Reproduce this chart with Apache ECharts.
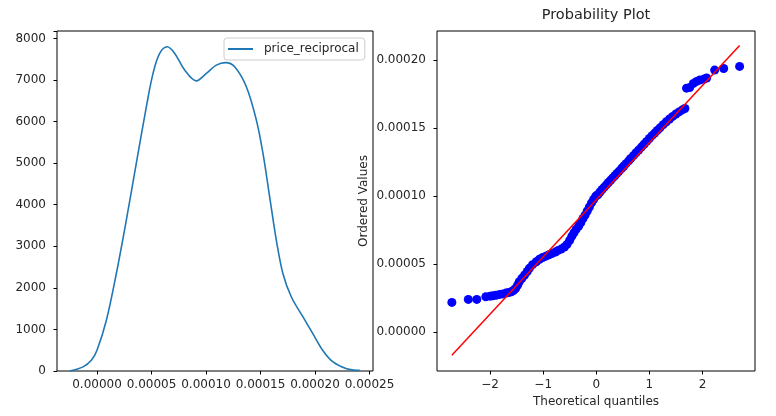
<!DOCTYPE html>
<html lang="en">
<head>
    <meta charset="UTF-8">
    <title>price_reciprocal</title>
    <script src="https://cdn.jsdelivr.net/npm/echarts@6/dist/echarts.min.js"></script>
    <style>
        body { margin: 0; background: #fff; }
    </style>
</head>
<body>
    <div id="main" style="width:776px; height:416px;"></div>
    <script>
        // KDE curve (left)
        var kdeX = [-2.5e-5, -1.28e-5, -0.52e-5, 0, 0.86e-5, 1.77e-5, 2.69e-5, 3.6e-5, 4.53e-5, 5.14e-5,
            5.75e-5, 6.45e-5, 7.13e-5, 8.04e-5, 9.11e-5, 10.03e-5, 10.95e-5, 11.8e-5, 12.63e-5, 13.7e-5,
            14.62e-5, 15.23e-5, 15.84e-5, 16.45e-5, 17.06e-5, 17.83e-5, 18.9e-5, 19.8e-5, 20.7e-5, 21.65e-5,
            22.9e-5, 24.1e-5];
        var kdeY = [0, 100, 257, 500, 1220, 2340, 3630, 4990, 6360, 7160,
            7640, 7800, 7640, 7240, 6980, 7160, 7360, 7420, 7320, 6840,
            6035, 5230, 4190, 3150, 2340, 1780, 1300, 900, 500, 217,
            56, 15];
        var kdeXTicks = [0, 5e-5, 1e-4, 1.5e-4, 2e-4, 2.5e-4];

        // probability plot (right)
        var qqX = [-2.72, -2.41, -2.25, -2.08, -2.00, -1.95, -1.89, -1.82, -1.76, -1.70,
            -1.65, -1.60, -1.56, -1.52, -1.48, -1.45, -1.40, -1.35, -1.30, -1.26,
            -1.20, -1.13, -1.07, -1.01, -0.95, -0.89, -0.83, -0.77, -0.72, -0.66,
            -0.60, -0.55, -0.50, -0.46, -0.42, -0.38, -0.33, -0.29, -0.25, -0.21,
            -0.17, -0.13, -0.09, -0.05, -0.01, 0.03, 0.07, 0.11, 0.15, 0.19,
            0.23, 0.27, 0.31, 0.35, 0.39, 0.43, 0.48, 0.52, 0.56, 0.61,
            0.65, 0.70, 0.75, 0.80, 0.85, 0.90, 0.95, 1.00, 1.05, 1.10,
            1.15, 1.20, 1.26, 1.32, 1.38, 1.44, 1.50, 1.56, 1.62, 1.67,
            1.70, 1.76, 1.83, 1.89, 1.95, 2.03, 2.08, 2.23, 2.40, 2.70];
        var qqY = [2.17e-5, 2.39e-5, 2.39e-5, 2.59e-5, 2.63e-5, 2.66e-5, 2.70e-5, 2.76e-5, 2.80e-5, 2.86e-5,
            2.90e-5, 2.95e-5, 3.05e-5, 3.20e-5, 3.45e-5, 3.69e-5, 3.95e-5, 4.19e-5, 4.45e-5, 4.68e-5,
            4.95e-5, 5.17e-5, 5.35e-5, 5.48e-5, 5.58e-5, 5.68e-5, 5.78e-5, 5.88e-5, 6.00e-5, 6.10e-5,
            6.25e-5, 6.45e-5, 6.75e-5, 7.05e-5, 7.30e-5, 7.55e-5, 7.80e-5, 8.05e-5, 8.35e-5, 8.60e-5,
            8.90e-5, 9.20e-5, 9.50e-5, 9.75e-5, 10.00e-5, 10.10e-5, 10.30e-5, 10.49e-5, 10.66e-5, 10.83e-5,
            11.00e-5, 11.17e-5, 11.34e-5, 11.50e-5, 11.67e-5, 11.84e-5, 12.05e-5, 12.22e-5, 12.39e-5, 12.60e-5,
            12.77e-5, 12.98e-5, 13.19e-5, 13.40e-5, 13.61e-5, 13.82e-5, 14.03e-5, 14.24e-5, 14.45e-5, 14.64e-5,
            14.84e-5, 15.03e-5, 15.26e-5, 15.48e-5, 15.68e-5, 15.87e-5, 16.05e-5, 16.20e-5, 16.35e-5, 16.45e-5,
            17.95e-5, 18.00e-5, 18.30e-5, 18.45e-5, 18.55e-5, 18.62e-5, 18.70e-5, 19.28e-5, 19.40e-5, 19.55e-5];
        var fitX = [-2.72, 2.70];
        var fitY = [-1.72e-5, 21.1e-5];
        var qqXTicks = [-2, -1, 0, 1, 2];
        var qqYTicks = [0, 5e-5, 1e-4, 1.5e-4, 2e-4];

        var font = 'DejaVu Sans';
        var txt = '#262626';

        function zip(a, b) {
            var out = [];
            for (var i = 0; i < a.length; i++) out.push([a[i], b[i]]);
            return out;
        }

        var tick = { show: true, length: 3.5, lineStyle: { color: '#000', width: 1 } };
        var lbl = { color: txt, fontFamily: font, fontSize: 12 };
        var noLine = { show: false, onZero: false };

        var myChart = echarts.init(document.getElementById('main'));
        var option = {
            animation: false,
            title: {
                text: 'Probability Plot',
                left: 596,
                top: 8,
                padding: 0,
                textAlign: 'center',
                textStyle: { color: txt, fontFamily: font, fontSize: 14.5, fontWeight: 'normal' }
            },
            legend: {
                data: [{ name: 'price_reciprocal', icon: 'rect' }],
                left: 224,
                top: 38,
                padding: [5, 6, 5, 4],
                itemWidth: 25,
                itemHeight: 2,
                borderColor: '#ccc',
                borderWidth: 1,
                borderRadius: 3,
                backgroundColor: 'rgba(255,255,255,0.8)',
                textStyle: { color: txt, fontFamily: font, fontSize: 12, padding: [0, 0, 0, 6] }
            },
            grid: [
                { left: 57, top: 31, width: 316, height: 340, show: true, borderColor: '#000', borderWidth: 1 },
                { left: 437, top: 31, width: 318, height: 340, show: true, borderColor: '#000', borderWidth: 1 }
            ],
            xAxis: [
                {
                    type: 'value', gridIndex: 0, min: -3.67e-5, max: 2.532e-4,
                    axisLine: noLine, splitLine: { show: false },
                    axisTick: Object.assign({ customValues: kdeXTicks }, tick),
                    axisLabel: Object.assign({ customValues: kdeXTicks, margin: 8,
                        formatter: function (v) { return v.toFixed(5); } }, lbl)
                },
                {
                    type: 'value', gridIndex: 1, min: -3.0, max: 2.99,
                    axisLine: noLine, splitLine: { show: false },
                    name: 'Theoretical quantiles', nameLocation: 'middle', nameGap: 24,
                    nameTextStyle: { color: txt, fontFamily: font, fontSize: 12 },
                    axisTick: Object.assign({ customValues: qqXTicks }, tick),
                    axisLabel: Object.assign({ customValues: qqXTicks, margin: 8,
                        formatter: function (v) { return v < 0 ? '\u2212' + Math.abs(v) : String(v); } }, lbl)
                }
            ],
            yAxis: [
                {
                    type: 'value', gridIndex: 0, min: 0, max: 8180, interval: 1000,
                    axisLine: noLine, splitLine: { show: false },
                    axisTick: tick,
                    axisLabel: Object.assign({ margin: 11,
                        formatter: function (v) { return v > 8000 ? '' : String(v); } }, lbl)
                },
                {
                    type: 'value', gridIndex: 1, min: -2.88e-5, max: 2.216e-4,
                    axisLine: noLine, splitLine: { show: false },
                    name: 'Ordered Values', nameLocation: 'middle', nameGap: 67,
                    nameTextStyle: { color: txt, fontFamily: font, fontSize: 12 },
                    axisTick: Object.assign({ customValues: qqYTicks }, tick),
                    axisLabel: Object.assign({ customValues: qqYTicks, margin: 11,
                        formatter: function (v) { return v.toFixed(5); } }, lbl)
                }
            ],
            series: [
                {
                    name: 'price_reciprocal',
                    type: 'line',
                    xAxisIndex: 0, yAxisIndex: 0,
                    data: zip(kdeX, kdeY),
                    smooth: 0.35,
                    showSymbol: false,
                    symbol: 'none',
                    color: '#1f77b4',
                    lineStyle: { color: '#1f77b4', width: 1.6 }
                },
                {
                    name: 'ordered',
                    type: 'scatter',
                    xAxisIndex: 1, yAxisIndex: 1,
                    data: zip(qqX, qqY),
                    symbolSize: 9,
                    itemStyle: { color: '#0000ff', opacity: 1 },
                    z: 2
                },
                {
                    name: 'fit',
                    type: 'line',
                    xAxisIndex: 1, yAxisIndex: 1,
                    data: zip(fitX, fitY),
                    showSymbol: false,
                    symbol: 'none',
                    lineStyle: { color: '#ff0000', width: 1.5 },
                    z: 3
                }
            ]
        };
        myChart.setOption(option);
    </script>
</body>
</html>
